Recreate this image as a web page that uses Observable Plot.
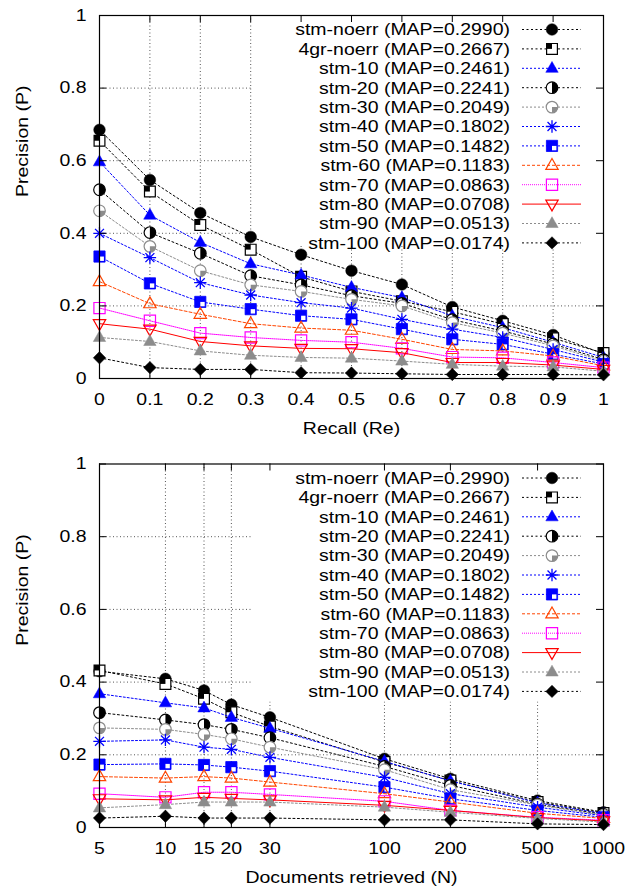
<!DOCTYPE html>
<html><head><meta charset="utf-8">
<script src="https://cdn.jsdelivr.net/npm/d3@7"></script>
<script src="https://cdn.jsdelivr.net/npm/@observablehq/plot@0.6"></script>
<style>
html,body{margin:0;padding:0;background:#fff;}
#charts svg{display:block;}
</style>
</head><body><div id="charts"></div>
<script>
// ---------- data ----------
const seriesNames = ["stm-noerr","4gr-noerr","stm-10","stm-20","stm-30","stm-40","stm-50","stm-60","stm-70","stm-80","stm-90","stm-100"];
const mapScores = ["0.2990","0.2667","0.2461","0.2241","0.2049","0.1802","0.1482","0.1183","0.0863","0.0708","0.0513","0.0174"];

const recallLevels = [0,0.1,0.2,0.3,0.4,0.5,0.6,0.7,0.8,0.9,1];
const recallTicks = [0,0.1,0.2,0.3,0.4,0.5,0.6,0.7,0.8,0.9,1];
const precisionTicks = [0,0.2,0.4,0.6,0.8,1];

const recallStmNoerr = [0.685,0.547,0.456,0.390,0.341,0.297,0.259,0.197,0.159,0.120,0.068];
const recall4grNoerr = [0.655,0.515,0.423,0.355,0.280,0.240,0.213,0.184,0.150,0.111,0.070];
const recallStm10   = [0.597,0.450,0.375,0.316,0.285,0.251,0.223,0.172,0.140,0.100,0.058];
const recallStm20   = [0.520,0.402,0.345,0.283,0.258,0.228,0.207,0.162,0.131,0.095,0.052];
const recallStm30   = [0.462,0.364,0.297,0.258,0.240,0.218,0.200,0.154,0.125,0.090,0.048];
const recallStm40   = [0.400,0.333,0.264,0.230,0.209,0.194,0.163,0.136,0.113,0.080,0.045];
const recallStm50   = [0.336,0.262,0.211,0.191,0.173,0.163,0.136,0.108,0.094,0.067,0.040];
const recallStm60   = [0.267,0.206,0.177,0.151,0.139,0.133,0.108,0.080,0.076,0.062,0.035];
const recallStm70   = [0.194,0.159,0.125,0.113,0.105,0.100,0.083,0.059,0.057,0.044,0.030];
const recallStm80   = [0.151,0.136,0.102,0.090,0.083,0.082,0.071,0.044,0.044,0.037,0.025];
const recallStm90   = [0.113,0.102,0.076,0.064,0.058,0.056,0.048,0.039,0.034,0.032,0.020];
const recallStm100  = [0.057,0.030,0.025,0.025,0.016,0.015,0.013,0.011,0.011,0.011,0.010];

const docLevels = [5,10,15,20,30,100,200,500,1000];
const docTicks = [5,10,15,20,30,100,200,500,1000];

const docStmNoerr = [0.430,0.409,0.377,0.338,0.303,0.189,0.134,0.074,0.042];
const doc4grNoerr = [0.432,0.395,0.354,0.317,0.278,0.180,0.129,0.070,0.040];
const docStm10   = [0.368,0.343,0.329,0.303,0.273,0.182,0.128,0.068,0.038];
const docStm20   = [0.316,0.296,0.283,0.270,0.247,0.168,0.116,0.064,0.036];
const docStm30   = [0.274,0.270,0.256,0.244,0.221,0.159,0.104,0.062,0.034];
const docStm40   = [0.237,0.241,0.221,0.215,0.193,0.138,0.093,0.056,0.032];
const docStm50   = [0.173,0.175,0.172,0.166,0.155,0.111,0.079,0.047,0.028];
const docStm60   = [0.140,0.136,0.140,0.136,0.125,0.093,0.070,0.039,0.025];
const docStm70   = [0.093,0.083,0.097,0.097,0.091,0.072,0.047,0.028,0.020];
const docStm80   = [0.079,0.076,0.083,0.080,0.076,0.061,0.047,0.027,0.018];
const docStm90   = [0.054,0.063,0.070,0.070,0.070,0.056,0.042,0.025,0.015];
const docStm100  = [0.026,0.031,0.026,0.026,0.026,0.021,0.021,0.010,0.008];

const recallSeries = [recallStmNoerr,recall4grNoerr,recallStm10,recallStm20,recallStm30,recallStm40,recallStm50,recallStm60,recallStm70,recallStm80,recallStm90,recallStm100];
const docSeries = [docStmNoerr,doc4grNoerr,docStm10,docStm20,docStm30,docStm40,docStm50,docStm60,docStm70,docStm80,docStm90,docStm100];

// ---------- styles ----------
const seriesColors = ["#000000","#000000","#0000ff","#000000","#8c8c8c","#0000ff","#0000ff","#ff4500","#ff00ff","#ff0000","#8c8c8c","#000000"];
const seriesDash = ["2,2.5","2,2.5","2,2","2,2.5","2,2","2,2","2,2","3,2","1,1",null,"2,2","2,2.5"];
const seriesMarkers = ["circleFilled","squareHalf","triFilled","circleHalf","circleQuarter","asterisk","squareNotch","triOpen","squareOpen","triDownOpen","triFilled","diamond"];

const FONT = '"Liberation Sans", Arial, Helvetica, sans-serif';
const TICK_FS = 16.8, LEG_FS = 16.8, STRETCH = 1.16;
const W = 629, H = 443, ML = 99, MR = 26;
const GRID = "#555";

const sym = (fn) => ({draw(c, size){ fn(c, Math.sqrt(size / Math.PI)); }});
const SQUARE = sym((c,r)=>{c.moveTo(-r,-r);c.lineTo(r,-r);c.lineTo(r,r);c.lineTo(-r,r);c.closePath();});
const QUAD_TL = sym((c,r)=>{c.moveTo(-r,-r);c.lineTo(0,-r);c.lineTo(0,0);c.lineTo(-r,0);c.closePath();});
const QUAD_BR = sym((c,r)=>{c.moveTo(0,0);c.lineTo(r,0);c.lineTo(r,r);c.lineTo(0,r);c.closePath();});
const CIRCLE = sym((c,r)=>{c.moveTo(r,0);c.arc(0,0,r,0,2*Math.PI);c.closePath();});
const HALF_R = sym((c,r)=>{c.moveTo(0,-r);c.arc(0,0,r,-Math.PI/2,Math.PI/2);c.closePath();});
const QUART_BR = sym((c,r)=>{c.moveTo(0,0);c.lineTo(r,0);c.arc(0,0,r,0,Math.PI/2);c.closePath();});
const TRI_UP = sym((c,r)=>{c.moveTo(0,-r*1.1);c.lineTo(r,r*0.65);c.lineTo(-r,r*0.65);c.closePath();});
const TRI_DN = sym((c,r)=>{c.moveTo(0,r*1.1);c.lineTo(r,-r*0.65);c.lineTo(-r,-r*0.65);c.closePath();});
const DIAMOND = sym((c,r)=>{c.moveTo(0,-r);c.lineTo(r,0);c.lineTo(0,r);c.lineTo(-r,0);c.closePath();});
const ASTER = sym((c,r)=>{const k=r*0.72;c.moveTo(-r,0);c.lineTo(r,0);c.moveTo(0,-r);c.lineTo(0,r);c.moveTo(-k,-k);c.lineTo(k,k);c.moveTo(-k,k);c.lineTo(k,-k);});

function markerLayers(kind, color) {
  switch (kind) {
    case "circleFilled": return [{symbol: CIRCLE, r: 5.8, fill: color, stroke: color, strokeWidth: 0.5}];
    case "squareHalf": return [{symbol: SQUARE, r: 5.4, fill: "white", stroke: color, strokeWidth: 1.2},
                               {symbol: QUAD_TL, r: 5.4, fill: color, stroke: "none"}];
    case "triFilled": return [{symbol: TRI_UP, r: 6.2, fill: color, stroke: color, strokeWidth: 0.5}];
    case "circleHalf": return [{symbol: CIRCLE, r: 5.8, fill: "white", stroke: color, strokeWidth: 1.2},
                               {symbol: HALF_R, r: 5.8, fill: color, stroke: "none"}];
    case "circleQuarter": return [{symbol: CIRCLE, r: 5.8, fill: "white", stroke: color, strokeWidth: 1.2},
                                  {symbol: QUART_BR, r: 5.8, fill: color, stroke: "none"}];
    case "asterisk": return [{symbol: ASTER, r: 6.2, fill: "none", stroke: color, strokeWidth: 1.3}];
    case "squareNotch": return [{symbol: SQUARE, r: 5.6, fill: color, stroke: color, strokeWidth: 0.8},
                                {symbol: QUAD_BR, r: 4.4, fill: "white", stroke: "none"}];
    case "triOpen": return [{symbol: TRI_UP, r: 6.2, fill: "none", stroke: color, strokeWidth: 1.2}];
    case "squareOpen": return [{symbol: SQUARE, r: 5.6, fill: "none", stroke: color, strokeWidth: 1.2}];
    case "triDownOpen": return [{symbol: TRI_DN, r: 6.2, fill: "none", stroke: color, strokeWidth: 1.2}];
    case "diamond": return [{symbol: DIAMOND, r: 6.2, fill: color, stroke: color, strokeWidth: 0.5}];
  }
  return [];
}

const fmtUnit = d => d === 0 ? "0" : d === 1 ? "1" : d.toFixed(1);

function chart(cfg) {
  const {xLevels, series, xScale, xTicks, xGrid, xFmt, xLabel, mt, mb, tickDy, labelDy, boxH} = cfg;
  const fh = H - mt - mb, fw = W - ML - MR;
  const marks = [];
  marks.push(Plot.ruleX(xGrid, {x: d => d, stroke: GRID, strokeWidth: 1, strokeDasharray: "1,2.5"}));
  marks.push(Plot.ruleY(precisionTicks.filter(d => d > 0 && d < 1), {y: d => d, stroke: GRID, strokeWidth: 1, strokeDasharray: "1,2.5"}));
  seriesNames.forEach((name, s) => {
    const data = series[s].map((v, j) => ({x: xLevels[j], y: v}));
    const lineOpts = {x: "x", y: "y", stroke: seriesColors[s], strokeWidth: 1};
    if (seriesDash[s]) lineOpts.strokeDasharray = seriesDash[s];
    marks.push(Plot.line(data, lineOpts));
    for (const layer of markerLayers(seriesMarkers[s], seriesColors[s])) {
      marks.push(Plot.dot(data, {x: "x", y: "y", ...layer}));
    }
  });
  // inward ticks on all four sides
  marks.push(Plot.ruleX(xTicks, {x: d => d, insetTop: fh - 7, stroke: "black"}));
  marks.push(Plot.ruleX(xTicks, {x: d => d, insetBottom: fh - 7, stroke: "black"}));
  marks.push(Plot.ruleY(precisionTicks, {y: d => d, insetRight: fw - 7, stroke: "black"}));
  marks.push(Plot.ruleY(precisionTicks, {y: d => d, insetLeft: fw - 7, stroke: "black"}));
  marks.push(Plot.frame({stroke: "black", strokeWidth: 1.2}));
  // tick labels
  marks.push(Plot.text(xTicks, {x: d => d, frameAnchor: "bottom", dy: tickDy, text: xFmt, lineAnchor: "middle", fontSize: TICK_FS, fill: "black"}));
  marks.push(Plot.text(precisionTicks, {y: d => d, frameAnchor: "left", dx: -13, textAnchor: "end", text: fmtUnit, lineAnchor: "middle", fontSize: TICK_FS, fill: "black"}));
  // axis titles
  marks.push(Plot.text([xLabel], {frameAnchor: "bottom", dy: labelDy, text: d => d, lineAnchor: "middle", fontSize: TICK_FS, fill: "black"}));
  marks.push(Plot.text(["Precision (P)"], {frameAnchor: "left", dx: -77, rotate: -90, text: d => d, lineAnchor: "middle", fontSize: TICK_FS, fill: "black"}));

  const svg = Plot.plot({
    width: W, height: H,
    marginTop: mt, marginBottom: mb, marginLeft: ML, marginRight: MR,
    x: {...xScale, axis: null},
    y: {domain: [0, 1], axis: null},
    style: {fontFamily: FONT, fontSize: TICK_FS + "px", background: "white", color: "black", overflow: "visible"},
    marks
  });

  const sel = d3.select(svg);
  // opaque key box (covers grid, below data)
  sel.insert("rect", 'g[aria-label="line"]')
    .attr("x", 253).attr("y", mt).attr("width", W - MR - 253).attr("height", boxH)
    .attr("fill", "white");
  // key
  const g = sel.append("g").attr("font-family", FONT).attr("font-size", LEG_FS);
  seriesNames.forEach((name, i) => {
    const y = mt + 14.5 + i * 19.4;
    g.append("text").attr("x", 510).attr("y", y).attr("text-anchor", "end")
      .attr("dy", "0.35em").attr("fill", "black").text(`${name} (MAP=${mapScores[i]})`);
    const ln = g.append("line").attr("x1", 522).attr("x2", 581).attr("y1", y).attr("y2", y)
      .attr("stroke", seriesColors[i]).attr("stroke-width", 1);
    if (seriesDash[i]) ln.attr("stroke-dasharray", seriesDash[i]);
    for (const layer of markerLayers(seriesMarkers[i], seriesColors[i])) {
      g.append("path").attr("transform", `translate(552,${y})`)
        .attr("d", d3.symbol(layer.symbol, layer.r * layer.r * Math.PI)())
        .attr("fill", layer.fill).attr("stroke", layer.stroke)
        .attr("stroke-width", layer.strokeWidth || 0);
    }
  });
  return svg;
}

const root = document.getElementById("charts");
root.appendChild(chart({
  xLevels: recallLevels, series: recallSeries,
  xScale: {domain: [0, 1]}, xTicks: recallTicks, xGrid: recallTicks.filter(d => d > 0 && d < 1),
  xFmt: fmtUnit, xLabel: "Recall (Re)", mt: 15, mb: 65, tickDy: 21, labelDy: 50, boxH: 231
}));
root.appendChild(chart({
  xLevels: docLevels, series: docSeries,
  xScale: {type: "log", domain: [5, 1000]}, xTicks: docTicks, xGrid: docTicks.filter(d => d > 5 && d < 1000),
  xFmt: d => String(d), xLabel: "Documents retrieved (N)", mt: 20.5, mb: 59, tickDy: 21, labelDy: 50, boxH: 238
}));

// the reference's lettering is slightly wide: stretch glyphs horizontally
document.querySelectorAll("#charts text").forEach(t => {
  const L = t.getComputedTextLength();
  if (L > 0) {
    t.setAttribute("textLength", (L * STRETCH).toFixed(2));
    t.setAttribute("lengthAdjust", "spacingAndGlyphs");
  }
});
</script>
</body></html>
